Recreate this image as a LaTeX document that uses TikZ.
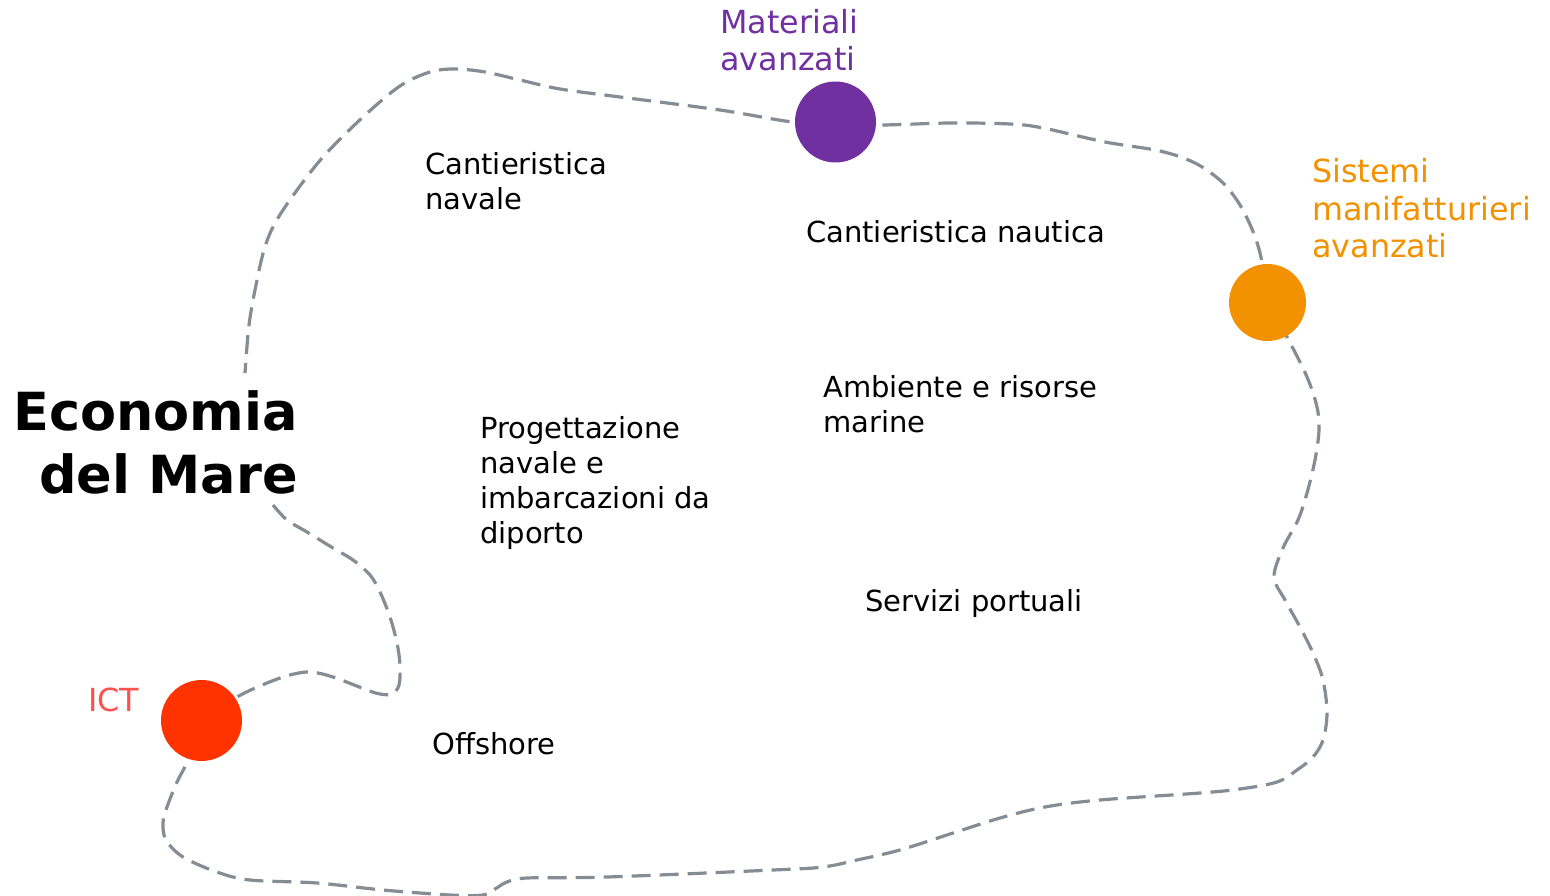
\documentclass[tikz,border=0pt]{standalone}
\usepackage{fontspec}
\setmainfont{DejaVu Sans}
\definecolor{matcol}{HTML}{7030A0}
\definecolor{sistcol}{HTML}{F39200}
\definecolor{ictfill}{HTML}{FF3300}
\definecolor{icttext}{HTML}{FF5050}
\definecolor{linecol}{HTML}{848C94}
\begin{document}
\begin{tikzpicture}[x=1pt,y=-1pt,
  lbl/.style={inner sep=0pt, align=left, anchor=base west, text=black,
    font=\fontsize{29}{35}\selectfont},
  clbl/.style={inner sep=0pt, align=left, anchor=base west,
    font=\fontsize{31.8}{37.5}\selectfont},
  ttl/.style={inner sep=0pt, align=right, anchor=base east,
    font=\bfseries\fontsize{52.5}{63}\selectfont},
  dot/.style={circle, inner sep=0pt, draw=none},
  border/.style={draw=linecol, line width=3.2pt, dash pattern=on 19pt off 9pt}]
\useasboundingbox (0,0) rectangle (1550,896);
% circles (positions)
\coordinate (mat) at (835.5,122);
\coordinate (sis) at (1267.5,302.5);
\coordinate (ict) at (201.5,720.5);
% dashed border
\draw[border] plot[smooth, tension=0.55] coordinates {
 (273,505) (287,520) (307,532) (333,548) (353,560) (370,575) (380,592)
 (390,617) (397,643) (400,665) (399,685) (392,694) (380,694) (367,690)
 (333,677) (310,672) (290,675) (267,683) (237,697) (ict)
 (188,760) (177,782) (167,807) (163,823) (166,840) (183,857) (217,872)
 (250,880) (317,883) (383,890) (450,895) (483,895) (495,889) (507,882)
 (527,878) (607,877) (773,870) (823,867) (857,860) (900,850) (950,834)
 (1000,818) (1045,807) (1100,800) (1200,793) (1240,789) (1277,782)
 (1297,770) (1313,757) (1323,740) (1327,713) (1323,680) (1313,653)
 (1300,627) (1285,600) (1274,577) (1283,548) (1298,520) (1307,493)
 (1315,460) (1319,430) (1317,407) (1307,377) (1287,337) (sis)
 (1262,262) (1254,234) (1240,205) (1222,182) (1195,163) (1160,151)
 (1105,142) (1043,128) (1010,124) (950,123) (877,125) (mat)
 (793,122) (720,110) (620,97) (560,89) (520,80) (485,72) (455,69) (430,72)
 (400,86) (363,117) (323,157) (292,197) (274,225) (264,250) (256,285)
 (249,325) (245,373)};
\node[dot, fill=matcol, minimum size=81pt] (matdot) at (mat) {};
\node[dot, fill=sistcol, minimum size=77pt] (sisdot) at (sis) {};
\node[dot, fill=ictfill, minimum size=81pt] (ictdot) at (ict) {};
% labels (anchor = baseline of last line)
\node[clbl, text=matcol] (matl) at (720,71) {Materiali\\avanzati};
\node[clbl, text=sistcol] (sisl) at (1312,258) {Sistemi\\manifatturieri\\avanzati};
\node[clbl, text=icttext] (ictl) at (88,711) {ICT};
\node[ttl] (eco) at (298,493) {Economia\\del Mare};
\node[lbl] (cnav) at (425,210) {Cantieristica\\navale};
\node[lbl] (cnau) at (806,243) {Cantieristica nautica};
\node[lbl] (amb) at (823,432) {Ambiente e risorse\\marine};
\node[lbl] (prog) at (480,543) {Progettazione\\navale e\\imbarcazioni da\\diporto};
\node[lbl] (serv) at (865,611) {Servizi portuali};
\node[lbl] (off) at (432,754) {Offshore};
\end{tikzpicture}
\end{document}
